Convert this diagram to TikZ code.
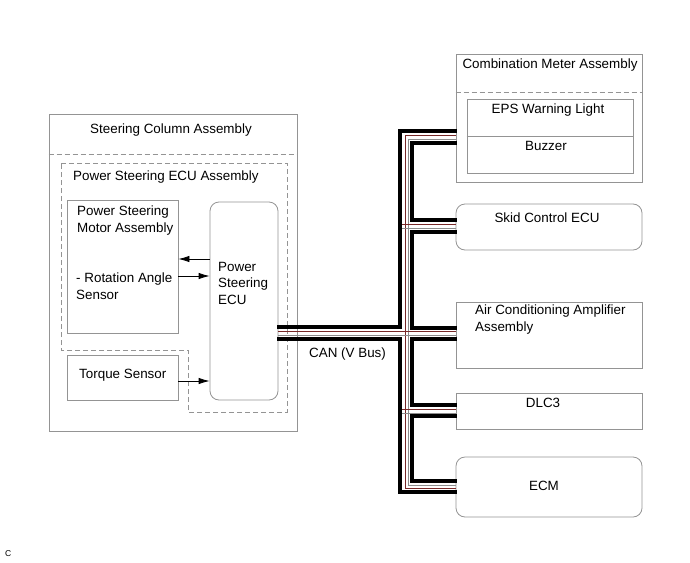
\documentclass[tikz,border=0pt]{standalone}
\usepackage{fontspec}
\setmainfont{Liberation Sans}
\usetikzlibrary{arrows.meta,calc,positioning}

\begin{document}
\begin{tikzpicture}[x=1pt,y=-1pt]
            % pixel grid of the original, y pointing down
            \tikzset{
              box/.style = {draw=black!42, line width=0.8pt, rectangle, inner sep=0pt},
              rbox/.style = {box, rounded corners=9pt},
              dash line/.style = {draw=black!42, line width=0.8pt, dash pattern=on 5pt off 3pt},
              txt/.style = {font=\fontsize{13.4}{16.5}\selectfont, inner sep=0pt, align=left},
              sig/.style = {line width=0.8pt, -{Latex[length=11pt,width=6.5pt]}},
              bus/.style = {line width=3.6pt, line cap=rect},
              wireA/.style = {line width=0.7pt, draw={rgb,255:red,120;green,40;blue,40}},
              wireB/.style = {line width=0.7pt, draw=black!45}
            }
            \useasboundingbox (0,0) rectangle (690,562);

            % steering column side
            \node[box, minimum width=248pt, minimum height=317pt] (column) at (173,272.5) {};
            \node[txt, anchor=base] (column_title) at (171,133) {Steering Column Assembly};
            \draw[dash line] (column.west |- 0,154) -- (column.east |- 0,154);
            \draw[dash line] (61,163) -- (287,163) -- (287,412) -- (188,412) -- (188,350)
              -- (61,350) -- cycle;
            \node[txt, anchor=base west] (ecuassy_title) at (73,180) {Power Steering ECU Assembly};

            \node[box, minimum width=111pt, minimum height=133pt] (motor) at (122.5,266.5) {};
            \node[txt, anchor=base west] (motor_name) at (77,232) {Power Steering\\Motor Assembly};
            \node[txt, anchor=base west] (motor_sensor) at (76,299) {- Rotation Angle\\Sensor};
            \node[box, minimum width=111pt, minimum height=45pt] (torque) at (122.5,377.5) {};
            \node[txt, anchor=base west] (torque_name) at (79,378) {Torque Sensor};
            \node[rbox, minimum width=68pt, minimum height=198pt] (ecu) at (244,301) {};
            \node[txt, anchor=base west] (ecu_name) at (218,304) {Power\\Steering\\ECU};

            \draw[sig] (ecu.west |- 0,259) -- (motor.east |- 0,259);
            \draw[sig] (motor.east |- 0,276) -- (ecu.west |- 0,276);
            \draw[sig] (torque.east |- 0,381) -- (ecu.west |- 0,381);

            % units on the bus
            \node[box, minimum width=186pt, minimum height=128pt] (meter) at (549,118) {};
            \node[txt, anchor=base] (meter_title) at (550,68) {Combination Meter Assembly};
            \draw[dash line] (meter.west |- 0,92) -- (meter.east |- 0,92);
            \node[box, minimum width=166pt, minimum height=74pt] (lamp) at (550,136) {};
            \draw[box] (lamp.west) -- (lamp.east);
            \node[txt, anchor=base] (lamp_name) at (548,113) {EPS Warning Light};
            \node[txt, anchor=base] (buzzer_name) at (546,150) {Buzzer};

            \node[rbox, minimum width=186pt, minimum height=46pt] (skid) at (549,227) {};
            \node[txt, anchor=base] (skid_name) at (547,222) {Skid Control ECU};
            \node[box, minimum width=186pt, minimum height=66pt] (aircon) at (549,335) {};
            \node[txt, anchor=base west] (aircon_name) at (475,331) {Air Conditioning Amplifier\\Assembly};
            \node[box, minimum width=186pt, minimum height=36pt] (dlc) at (549,411) {};
            \node[txt, anchor=base] (dlc_name) at (543,407) {DLC3};
            \node[rbox, minimum width=186pt, minimum height=60pt] (ecm) at (549,487) {};
            \node[txt, anchor=base] (ecm_name) at (544,490) {ECM};

            % CAN bus, two heavy lines with the thin pair between
            \coordinate (trunk) at (400,333);
            \coordinate (loop) at (412,333);
            \draw[wireA] (loop |- 0,135) -- (meter.west |- 0,135);
            \draw[wireB] (loop |- 0,139) -- (meter.west |- 0,139);
            \draw[wireA] (405,135) -- (405,488) -- (ecm.west |- 0,488);
            \draw[wireB] (408,139) -- (408,485) -- (ecm.west |- 0,485);
            \draw[wireA] (405,135) -- (loop |- 0,135);
            \draw[wireB] (408,139) -- (loop |- 0,139);
            \draw[wireA] (trunk |- 0,224) -- (skid.west |- 0,224);
            \draw[wireB] (trunk |- 0,228) -- (skid.west |- 0,228);
            \draw[wireA] (ecu.east |- 0,331) -- (aircon.west |- 0,331);
            \draw[wireB] (ecu.east |- 0,335) -- (aircon.west |- 0,335);
            \draw[wireA] (trunk |- 0,409) -- (dlc.west |- 0,409);
            \draw[wireB] (trunk |- 0,413) -- (dlc.west |- 0,413);

            \draw[bus] (ecu.east |- 0,327) -| (trunk |- 0,131) -- (meter.west |- 0,131);
            \draw[bus] (ecu.east |- 0,339) -| (trunk |- 0,492) -- (ecm.west |- 0,492);
            \draw[bus] (meter.west |- 0,143) -| (loop |- 0,220) -- (skid.west |- 0,220);
            \draw[bus] (skid.west |- 0,232) -| (loop |- 0,328) -- (aircon.west |- 0,328);
            \draw[bus] (aircon.west |- 0,339) -| (loop |- 0,405) -- (dlc.west |- 0,405);
            \draw[bus] (dlc.west |- 0,416) -| (loop |- 0,481) -- (ecm.west |- 0,481);
            \node[txt, anchor=base west] (can_name) at (309,357) {CAN (V Bus)};

            \node[txt, font=\fontsize{8.5}{10}\selectfont, anchor=base west] (fig_code) at (5,556) {C};
\end{tikzpicture}
\end{document}
